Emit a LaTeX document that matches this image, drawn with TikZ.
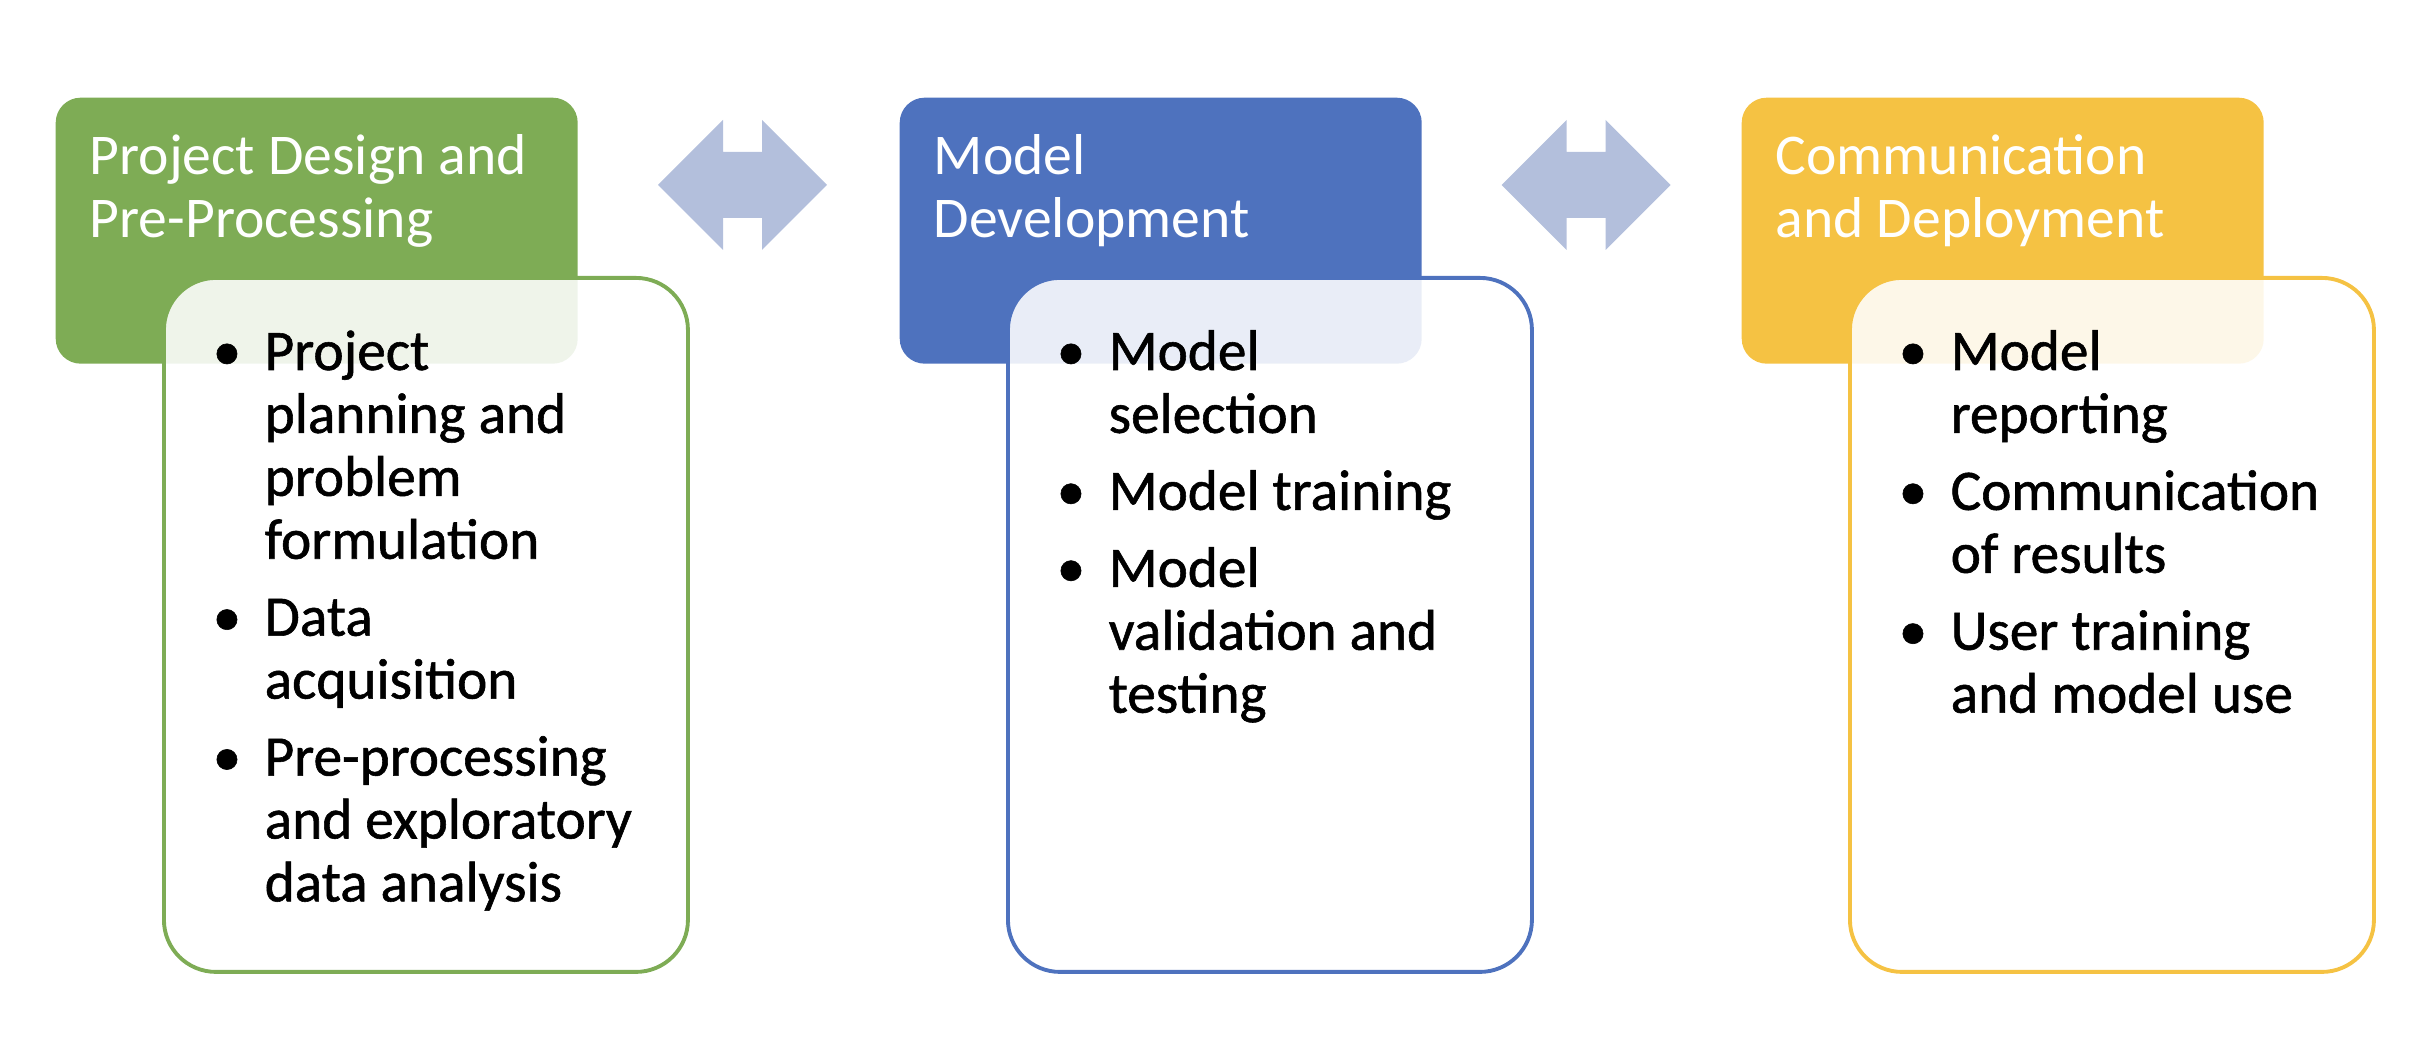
\documentclass[tikz,border=0pt]{standalone}
\usepackage{fontspec}
\setmainfont{Carlito}
\newfontfamily\listfont{Carlito}[FakeBold=1.0]
\usepackage{array}
\usetikzlibrary{positioning,calc}
\definecolor{stgreen}{HTML}{7EAC55}
\definecolor{stblue}{HTML}{4E72BE}
\definecolor{styellow}{HTML}{F5C243}
\definecolor{stlink}{HTML}{B3BFDC}

\begin{document}
\begin{tikzpicture}[
    x=1cm,
    y=1cm,
    head/.style={rectangle, rounded corners=2.5mm, anchor=north west, inner sep=0pt, minimum width=5.22cm, minimum height=2.66cm},
    card/.style={rectangle, rounded corners=5.2mm, anchor=north west, inner sep=0pt, minimum width=5.24cm, minimum height=6.94cm, fill=white, fill opacity=0.88, line width=1.1pt},
    headtxt/.style={anchor=base west, inner sep=0pt, text=white, font=\fontsize{16.4}{17.9}\selectfont},
    listtxt/.style={anchor=base west, inner sep=0pt, text=black, font=\listfont\fontsize{16.3}{17.9}\selectfont},
    dblarrow/.pic={\fill[stlink] (-0.845,0) -- (-0.195,0.65) -- (-0.195,0.33) -- (0.195,0.33) -- (0.195,0.65) -- (0.845,0) -- (0.195,-0.65) -- (0.195,-0.33) -- (-0.195,-0.33) -- (-0.195,-0.65) -- cycle;}
  ]
    \useasboundingbox (0,0) rectangle (24.34,10.46);

    % stage headers
    \node[head, fill=stgreen] (design) at (0.55,9.49) {};
    \node[head, fill=stblue] (model) at (8.99,9.49) {};
    \node[head, fill=styellow] (deploy) at (17.41,9.49) {};

    % list cards, lying over the headers
    \node[card, draw=stgreen] (designlist) at (1.62,7.70) {};
    \node[card, draw=stblue] (modellist) at (10.06,7.70) {};
    \node[card, draw=styellow] (deploylist) at (18.48,7.70) {};

    \node[headtxt] (designtxt) at ([shift={(0.34,-0.78)}]design.north west)
      {\begin{tabular}[t]{@{}l@{}}Project Design and\\Pre-Processing\end{tabular}};
    \node[headtxt] (modeltxt) at ([shift={(0.34,-0.78)}]model.north west)
      {\begin{tabular}[t]{@{}l@{}}Model\\Development\end{tabular}};
    \node[headtxt] (deploytxt) at ([shift={(0.34,-0.78)}]deploy.north west)
      {\begin{tabular}[t]{@{}l@{}}Communication\\and Deployment\end{tabular}};

    \node[listtxt] (designitems) at ([shift={(0.50,-0.94)}]designlist.north west)
      {\begin{tabular}[t]{@{}p{0.52cm}@{}l@{}}
        \textbullet & Project\\
                    & planning and\\
                    & problem\\
                    & formulation\\[4pt]
        \textbullet & Data\\
                    & acquisition\\[4pt]
        \textbullet & Pre-processing\\
                    & and exploratory\\
                    & data analysis
      \end{tabular}};
    \node[listtxt] (modelitems) at ([shift={(0.50,-0.94)}]modellist.north west)
      {\begin{tabular}[t]{@{}p{0.52cm}@{}l@{}}
        \textbullet & Model\\
                    & selection\\[4pt]
        \textbullet & Model training\\[4pt]
        \textbullet & Model\\
                    & validation and\\
                    & testing
      \end{tabular}};
    \node[listtxt] (deployitems) at ([shift={(0.50,-0.94)}]deploylist.north west)
      {\begin{tabular}[t]{@{}p{0.52cm}@{}l@{}}
        \textbullet & Model\\
                    & reporting\\[4pt]
        \textbullet & Communication\\
                    & of results\\[4pt]
        \textbullet & User training\\
                    & and model use
      \end{tabular}};

    % two-way links between stages
    \coordinate (linkA) at (7.425,8.61);
    \coordinate (linkB) at (15.86,8.61);
    \pic at (linkA) {dblarrow};
    \pic at (linkB) {dblarrow};
  \end{tikzpicture}
\end{document}
